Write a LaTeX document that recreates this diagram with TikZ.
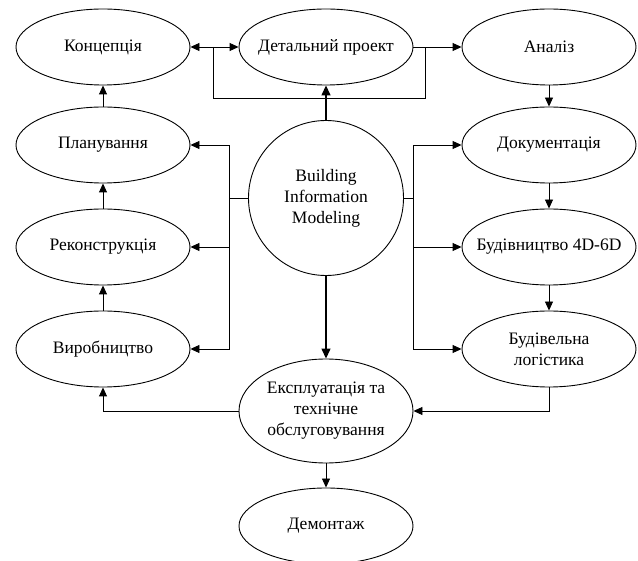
\documentclass[tikz,border=0pt]{standalone}
\usepackage{fontspec}
\setmainfont{Liberation Serif}
\usetikzlibrary{shapes.geometric,arrows.meta}
\begin{document}
\begin{tikzpicture}[x=1pt,y=-1pt,
  every node/.style={font=\fontsize{17.5}{21}\selectfont},
  stage/.style={ellipse,draw,line width=0.9pt,minimum width=174pt,minimum height=76pt,inner xsep=-12pt,inner ysep=-4pt,align=center},
  conn/.style={line width=0.9pt},
  arr/.style={conn,-{Triangle[length=9pt,width=8pt]}},
  darr/.style={conn,{Triangle[length=9pt,width=8pt]}-{Triangle[length=9pt,width=8pt]}},
  thick arr/.style={line width=1.4pt,-{Triangle[length=10pt,width=9pt]}}]
\useasboundingbox (0,0) rectangle (638,561);
% left column
\node[stage] (kon) at (103,47) {Концепція};
\node[stage] (plan) at (103,145) {Планування};
\node[stage] (rek) at (103,247) {Реконструкція};
\node[stage] (vyr) at (103,349) {Виробництво};
% middle
\node[stage] (det) at (326,47) {Детальний проект};
\node[circle,draw,line width=0.9pt,minimum size=155pt,inner sep=0pt,align=center] (bim) at (326,198) {Building\\Information\\Modeling};
\node[stage,minimum height=104pt] (eks) at (326,411) {Експлуатація та\\технічне\\обслуговування};
\node[stage] (dem) at (326,526) {Демонтаж};
% right column
\node[stage] (ana) at (549,47) {Аналіз};
\node[stage] (dok) at (549,145) {Документація};
\node[stage] (bud) at (549,247) {Будівництво 4D-6D};
\node[stage] (log) at (549,349) {Будівельна\\логістика};
% junctions
\coordinate (jL) at (213,47);
\coordinate (jR) at (425,47);
\coordinate (loopL) at (213,98);
\coordinate (loopR) at (425,98);
\coordinate (busL) at (229,198);
\coordinate (busR) at (413,198);
\coordinate (botL) at (103,411);
\coordinate (botR) at (549,411);
% top connectors
\draw[darr] (kon.east) -- (det.west);
\draw[arr] (det.east) -- (ana.west);
\draw[conn] (jL) -- (loopL) -- (loopR) -- (jR);
\draw[thick arr] (bim.north) -- (det.south);
% left column chain
\draw[arr] (plan.north) -- (kon.south);
\draw[arr] (rek.north) -- (plan.south);
\draw[arr] (vyr.north) -- (rek.south);
% left bus
\draw[conn] (bim.west) -- (busL);
\draw[arr] (busL) |- (plan.east);
\draw[arr] (busL) |- (rek.east);
\draw[arr] (busL) |- (vyr.east);
% right bus
\draw[conn] (bim.east) -- (busR);
\draw[arr] (busR) |- (dok.west);
\draw[arr] (busR) |- (bud.west);
\draw[arr] (busR) |- (log.west);
% right column chain
\draw[arr] (ana.south) -- (dok.north);
\draw[arr] (dok.south) -- (bud.north);
\draw[arr] (bud.south) -- (log.north);
% bottom
\draw[thick arr] (bim.south) -- (eks.north);
\draw[arr] (eks.west) -- (botL) -- (vyr.south);
\draw[arr] (log.south) -- (botR) -- (eks.east);
\draw[arr] (eks.south) -- (dem.north);
\end{tikzpicture}
\end{document}
